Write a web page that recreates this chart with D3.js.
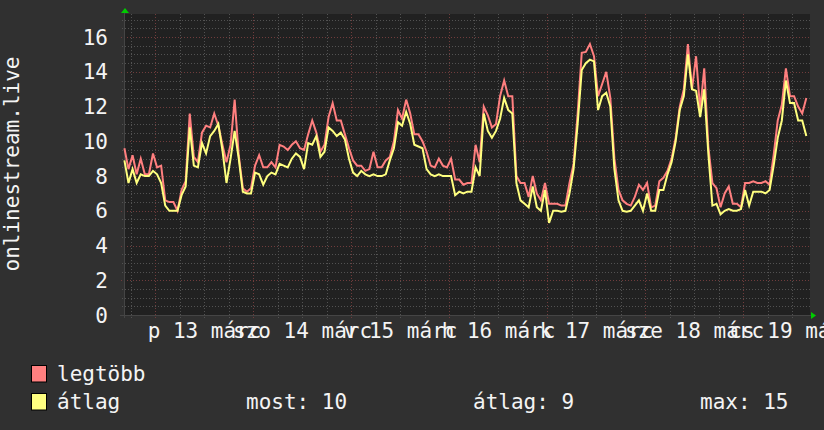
<!DOCTYPE html>
<html>
<head>
<meta charset="utf-8">
<script src="https://cdn.jsdelivr.net/npm/d3@7"></script>
<style>
html,body{margin:0;padding:0;background:#303030;}
svg{display:block;}
text{font-family:"DejaVu Sans Mono",monospace;fill:#f4f4f4;}
</style>
</head>
<body>
<svg id="chart" width="824" height="430"></svg>
<script>
// ---- data (hourly samples, starting 2020-03-12 16:30) ----
const seriesNames = ["legtöbb", "átlag"];
const dayLabels = ["p 13 márc", "szo 14 márc", "v 15 márc", "h 16 márc", "k 17 márc", "sze 18 márc", "cs 19 márc"];
const yTicks = [0, 2, 4, 6, 8, 10, 12, 14, 16];
const yTitle = "onlinestream.live";
const legendStats = ["most: 10", "átlag: 9", "max: 15"];

const maxValues = [
  9.6, 8.4, 9.2, 8.1, 9.0, 8.1, 8.1, 9.3, 8.5, 8.6, 6.6, 6.5, 6.5, 6.0, 7.2, 7.7,
  11.6, 9.1, 8.8, 10.5, 10.9, 10.8, 11.6, 10.9, 9.8, 8.8, 9.8, 12.4, 9.2, 7.3, 7.1, 7.3,
  8.6, 9.2, 8.5, 8.5, 8.8, 8.5, 9.8, 9.7, 9.5, 9.8, 10.0, 9.6, 9.5, 10.4, 11.2, 10.5,
  9.4, 9.8, 11.4, 12.2, 11.2, 11.2, 10.4, 9.6, 8.9, 8.6, 8.6, 8.3, 8.4, 9.4, 8.5, 8.5,
  8.9, 9.1, 10.0, 11.8, 11.3, 12.4, 11.6, 10.4, 10.4, 10.0, 9.4, 8.6, 8.5, 9.0, 8.6, 8.5,
  9.0, 7.8, 7.8, 7.5, 7.6, 7.6, 9.8, 8.8, 12.0, 11.5, 10.8, 11.0, 12.6, 13.5, 12.6, 12.6,
  8.0, 7.6, 7.6, 6.8, 8.0, 7.0, 6.6, 7.6, 6.4, 6.4, 6.4, 6.3, 6.3, 7.6, 8.7, 11.6,
  15.1, 15.15, 15.6, 14.9, 12.6, 13.3, 14.0, 12.5, 9.0, 7.2, 6.6, 6.4, 6.3, 6.8, 7.5, 7.2,
  7.6, 6.2, 6.3, 7.7, 7.9, 8.3, 9.0, 10.2, 12.0, 13.0, 15.6, 13.0, 14.9, 11.8, 14.2, 9.7,
  7.6, 7.3, 6.2, 7.0, 7.4, 6.4, 6.4, 6.2, 7.6, 7.6, 7.7, 7.6, 7.6, 7.7, 7.5, 9.2,
  11.2, 12.1, 14.2, 12.6, 12.6, 12.0, 11.6, 12.5
];
const avgValues = [
  8.9, 7.6, 8.4, 7.6, 8.1, 8.0, 8.0, 8.3, 8.1, 7.6, 6.3, 6.0, 6.0, 6.0, 6.9, 7.4,
  10.8, 8.6, 8.5, 9.9, 9.3, 10.3, 10.6, 11.0, 9.5, 7.6, 9.0, 10.6, 9.0, 7.1, 7.0, 7.0,
  8.2, 8.1, 7.5, 8.0, 8.2, 8.1, 8.7, 8.6, 8.5, 9.0, 9.3, 9.1, 8.4, 9.9, 9.8, 10.3,
  9.1, 9.4, 10.8, 10.6, 10.3, 10.5, 10.1, 9.0, 8.2, 8.0, 8.3, 8.1, 8.0, 8.1, 8.0, 8.0,
  8.1, 8.9, 9.6, 11.1, 10.9, 11.7, 11.0, 9.8, 9.7, 9.6, 8.4, 8.1, 8.0, 8.1, 8.0, 8.0,
  8.0, 6.9, 7.1, 7.0, 7.1, 7.1, 8.5, 8.0, 11.6, 10.6, 10.2, 10.6, 11.3, 12.5, 11.8, 11.6,
  7.6, 6.6, 6.4, 6.2, 7.4, 6.2, 6.0, 7.2, 5.3, 6.0, 6.0, 5.95, 6.0, 7.0, 8.4, 11.0,
  14.1, 14.5, 14.7, 14.6, 11.8, 12.6, 12.8, 12.0, 8.4, 6.6, 6.0, 5.95, 6.0, 6.3, 6.6, 6.0,
  7.0, 6.0, 6.0, 7.2, 7.2, 8.1, 8.8, 10.0, 11.8, 12.6, 15.0, 13.0, 12.9, 11.4, 13.0, 9.3,
  6.3, 6.4, 5.8, 6.0, 6.1, 6.0, 6.0, 6.1, 7.2, 6.3, 7.1, 7.1, 7.1, 7.0, 7.2, 8.6,
  10.2, 11.2, 13.5, 12.2, 12.2, 11.2, 11.2, 10.3
];

// ---- layout ----
const W = 824, H = 430;
const plot = {left: 124, right: 810, top: 14, bottom: 315};
const tStart = new Date(2020, 2, 12, 16, 24);
const tEnd = new Date(2020, 2, 19, 16, 24);
const firstSample = new Date(2020, 2, 12, 16, 30);
const timeOf = i => new Date(firstSample.getTime() + i * 3600e3);
const FS = 21;

const x = d3.scaleTime().domain([tStart, tEnd]).range([plot.left, plot.right]);
const y = d3.scaleLinear().domain([0, 17.33]).range([plot.bottom, plot.top]);

const svg = d3.select("#chart");
svg.append("rect").attr("width", W).attr("height", H).attr("fill", "#303030");
svg.append("rect").attr("x", plot.left).attr("y", plot.top)
  .attr("width", plot.right - plot.left).attr("height", plot.bottom - plot.top)
  .attr("fill", "#212121");

const grid = svg.append("g");
const minorY = d3.range(0.5, 17.3, 0.5).filter(v => v % 2 !== 0);
grid.selectAll(".hmin").data(minorY).join("line")
  .attr("x1", plot.left - 2).attr("x2", plot.right)
  .attr("y1", d => Math.round(y(d)) + 0.5).attr("y2", d => Math.round(y(d)) + 0.5)
  .attr("stroke", "#525252").attr("stroke-dasharray", "1,2");
const minorX = d3.timeHour.every(6).range(tStart, tEnd).filter(d => d.getHours() !== 0);
grid.selectAll(".vmin").data(minorX).join("line")
  .attr("x1", d => Math.round(x(d)) + 0.5).attr("x2", d => Math.round(x(d)) + 0.5)
  .attr("y1", plot.top).attr("y2", plot.bottom + 3)
  .attr("stroke", "#525252").attr("stroke-dasharray", "1,2");
grid.selectAll(".hmaj").data(yTicks.filter(v => v > 0)).join("line")
  .attr("x1", plot.left - 3).attr("x2", plot.right)
  .attr("y1", d => Math.round(y(d)) + 0.5).attr("y2", d => Math.round(y(d)) + 0.5)
  .attr("stroke", "#703c3c").attr("stroke-dasharray", "1,2");
const days = d3.timeDay.range(tStart, tEnd);
grid.selectAll(".vmaj").data(days).join("line")
  .attr("x1", d => Math.round(x(d)) + 0.5).attr("x2", d => Math.round(x(d)) + 0.5)
  .attr("y1", plot.top).attr("y2", plot.bottom + 4)
  .attr("stroke", "#703c3c").attr("stroke-dasharray", "1,2");

svg.append("line").attr("x1", plot.left - 4).attr("x2", plot.right + 1)
  .attr("y1", plot.bottom + 0.5).attr("y2", plot.bottom + 0.5).attr("stroke", "#454545");
svg.append("line").attr("x1", plot.left + 0.5).attr("x2", plot.left + 0.5)
  .attr("y1", plot.top - 2).attr("y2", plot.bottom + 3).attr("stroke", "#454545");

// data lines
const line = d3.line().x((d, i) => x(timeOf(i))).y(d => y(d)).curve(d3.curveLinear);
const lines = svg.append("g");
lines.append("path").datum(maxValues).attr("d", line)
  .attr("fill", "none").attr("stroke", "#ff7f7f").attr("stroke-width", 2).attr("stroke-linejoin", "miter");
lines.append("path").datum(avgValues).attr("d", line)
  .attr("fill", "none").attr("stroke", "#ffff7f").attr("stroke-width", 2).attr("stroke-linejoin", "miter");

// arrows
svg.append("path").attr("d", `M${plot.left - 3},${plot.top - 1}L${plot.left + 1},${plot.top - 6}L${plot.left + 5},${plot.top - 1}Z`).attr("fill", "#00cc00");
svg.append("path").attr("d", `M${plot.right + 1},${plot.bottom - 3}L${plot.right + 6},${plot.bottom + 0.5}L${plot.right + 1},${plot.bottom + 4}Z`).attr("fill", "#00cc00");

// y axis labels
svg.append("g").selectAll("text").data(yTicks).join("text")
  .attr("x", 108).attr("y", d => y(d)).attr("dy", "0.36em")
  .attr("text-anchor", "end").attr("font-size", FS).text(d => d);

// x axis labels (centred at noon of each day)
const xAxis = d3.axisBottom(x)
  .tickValues(days.map(d => d3.timeHour.offset(d, 12)))
  .tickFormat((d, i) => dayLabels[i]).tickSize(0).tickPadding(0);
const gx = svg.append("g").attr("transform", `translate(0,${plot.bottom})`).call(xAxis);
gx.select(".domain").remove();
gx.selectAll("text").attr("font-size", FS).attr("font-family", "DejaVu Sans Mono")
  .attr("fill", "#f4f4f4").attr("dy", null).attr("y", 23);

// y title
svg.append("text").attr("transform", "translate(18.5,164) rotate(-90)")
  .attr("text-anchor", "middle").attr("font-size", FS).text(yTitle);

// legend
const legendColors = ["#ff8080", "#ffff80"];
const lg = svg.append("g");
seriesNames.forEach((name, i) => {
  lg.append("rect").attr("x", 31.5).attr("y", 365.5 + i * 28).attr("width", 15).attr("height", 16.5)
    .attr("fill", legendColors[i]).attr("stroke", "#000").attr("stroke-width", 1);
  lg.append("text").attr("x", 57).attr("y", 381 + i * 28).attr("font-size", FS).text(name);
});
const statX = [246, 473, 700];
legendStats.forEach((s, i) => {
  lg.append("text").attr("x", statX[i]).attr("y", 409).attr("font-size", FS).text(s);
});
</script>
</body>
</html>
